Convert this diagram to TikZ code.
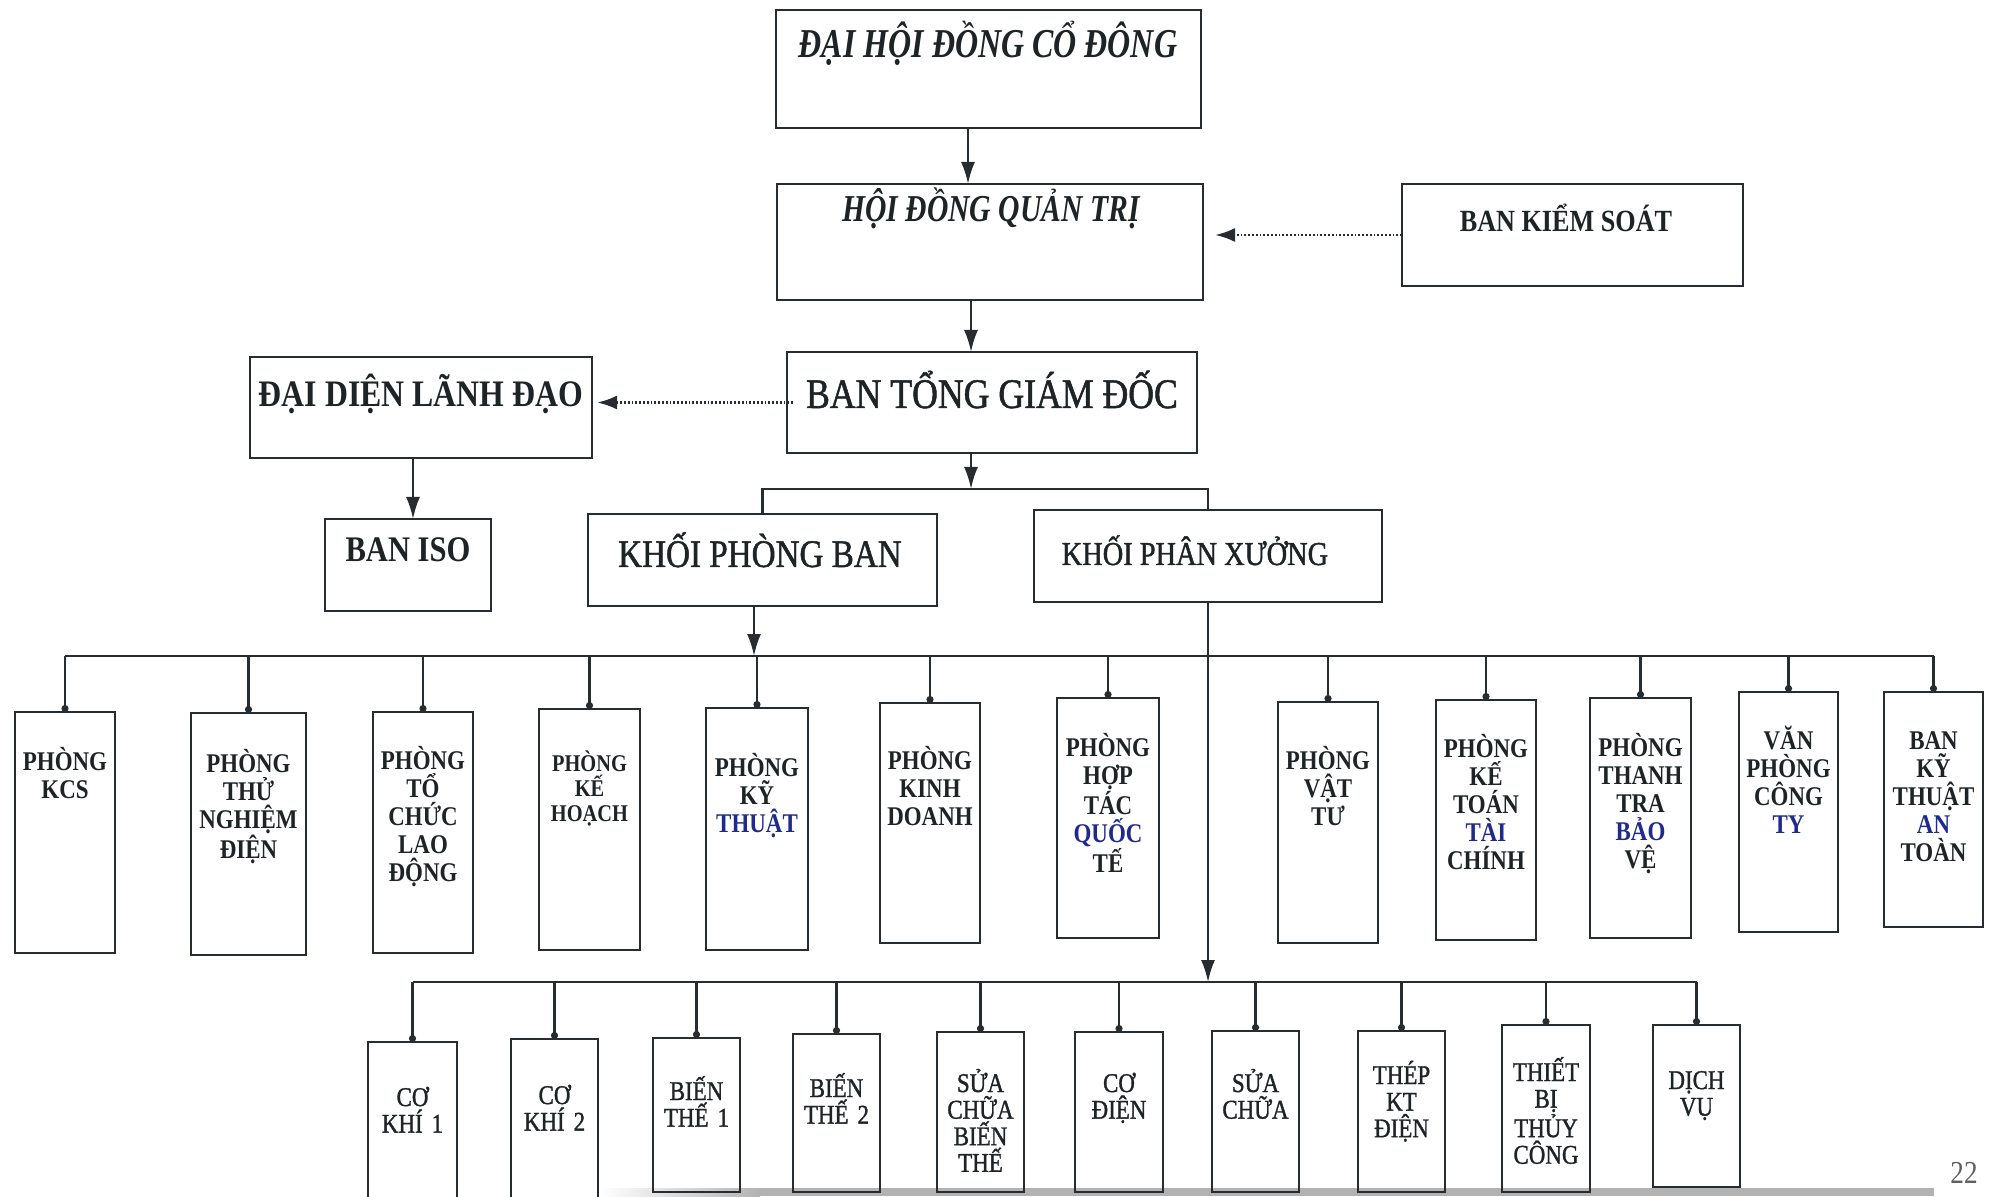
\documentclass[tikz,border=0pt]{standalone}
\usepackage{fontspec}
\setmainfont{Liberation Serif}
\newfontfamily\cond[FakeStretch=0.85]{Liberation Serif}
\newfontfamily\condm[FakeStretch=0.85, FakeBold=1.2]{Liberation Serif}
\newfontfamily\condi[FakeStretch=0.78]{Liberation Serif}
\usetikzlibrary{arrows.meta}
\definecolor{tc}{HTML}{1E2326}
\definecolor{linec}{HTML}{262C30}
\definecolor{bl}{HTML}{1F2A8C}
\tikzset{
  box/.style={draw=linec, line width=1.4pt, inner sep=0pt, outer sep=0pt},
  arr/.style={draw=linec, line width=1.1pt, -{Latex[length=11pt,width=7pt]}},
  dotarr/.style={draw=linec, line width=1.4pt, dash pattern=on 0.9pt off 1pt, -{Latex[length=10pt,width=7pt]}},
  conn/.style={draw=linec, line width=1.1pt, -{Circle[length=3.5pt]}},
  busline/.style={draw=linec, line width=1.2pt},
  head/.style={text=tc, anchor=base, inner sep=0pt},
  dtext/.style={text=tc, anchor=base, inner sep=0pt, text width=60pt, align=center,
    font=\cond\bfseries\fontsize{13.5}{14}\selectfont},
  btext/.style={text=tc, anchor=base, inner sep=0pt, text width=60pt, align=center,
    font=\condm\fontsize{13.5}{13.3}\selectfont},
}
\newcommand\ubox[5]{%
  \node[box, minimum width={(#4-#2)*0.5pt}, minimum height={(#5-#3)*0.5pt}] (#1) at ({(#2+#4)/2},{(#3+#5)/2}) {};}
\newcommand\dept[7]{%
  \ubox{#1}{#2}{#3}{#4}{#5}
  \node[dtext] (#1t) at ({(#2+#4)/2},#6) {#7};}
\newcommand\wbox[7]{%
  \ubox{#1}{#2}{#3}{#4}{#5}
  \node[btext] (#1t) at ({(#2+#4)/2},#6) {#7};}
\begin{document}
\begin{tikzpicture}[x=0.5pt, y=-0.5pt]
\useasboundingbox (0,0) rectangle (1991,1197);
\fill[white] (0,0) rectangle (1991,1197);
% bottom grey band
\shade[left color=white, right color=gray!60] (600,1188) rectangle (760,1196);
\fill[gray!60] (760,1188) rectangle (1934,1196);

% upper boxes
\ubox{dh}{776}{10}{1201}{128}
\node[head, font=\condi\bfseries\itshape\fontsize{20.5}{20.5}\selectfont] (dht) at (988,58) {ĐẠI HỘI ĐỒNG CỔ ĐÔNG};
\ubox{hdqt}{777}{184}{1203}{300}
\node[head, font=\condi\bfseries\itshape\fontsize{19}{19}\selectfont] (hdqtt) at (991,222) {HỘI ĐỒNG QUẢN TRỊ};
\ubox{bks}{1402}{184}{1743}{286}
\node[head, font=\cond\bfseries\fontsize{15.4}{15.4}\selectfont] (bkst) at (1566,232) {BAN KIỂM SOÁT};
\ubox{btgd}{787}{352}{1197}{453}
\node[head, font=\condm\fontsize{21}{21}\selectfont] (btgdt) at (992,408) {BAN TỔNG GIÁM ĐỐC};
\ubox{dd}{250}{357}{592}{458}
\node[head, font=\cond\bfseries\fontsize{18.7}{18.7}\selectfont] (ddt) at (421,407) {ĐẠI DIỆN LÃNH ĐẠO};
\ubox{iso}{325}{519}{491}{611}
\node[head, font=\cond\bfseries\fontsize{18}{18}\selectfont] (isot) at (408,561) {BAN ISO};
\ubox{kpb}{588}{514}{937}{606}
\node[head, font=\condm\fontsize{19.5}{19.5}\selectfont] (kpbt) at (760,567) {KHỐI PHÒNG BAN};
\ubox{kpx}{1034}{510}{1382}{602}
\node[head, font=\condm\fontsize{16.7}{16.7}\selectfont] (kpxt) at (1195,565) {KHỐI PHÂN XƯỞNG};

% department boxes
\dept{d1}{15}{712}{115}{953}{770}{PHÒNG\\KCS}
\dept{d2}{191}{713}{306}{955}{772}{PHÒNG\\THỬ\\NGHIỆM\\ĐIỆN}
\dept{d3}{373}{712}{473}{953}{769}{PHÒNG\\TỔ\\CHỨC\\LAO\\ĐỘNG}
\ubox{d4}{539}{709}{640}{950}
\node[dtext, font=\cond\bfseries\fontsize{12}{12.5}\selectfont] (d4t) at (589.5,771) {PHÒNG\\KẾ\\HOẠCH};
\dept{d5}{706}{708}{808}{950}{776}{PHÒNG\\KỸ\\\textcolor{bl}{THUẬT}}
\dept{d6}{880}{703}{980}{943}{769}{PHÒNG\\KINH\\DOANH}
\dept{d7}{1057}{698}{1159}{938}{756}{PHÒNG\\HỢP\\TÁC\\\textcolor{bl}{QUỐC}\\TẾ}
\dept{d8}{1278}{702}{1378}{943}{769}{PHÒNG\\VẬT\\TƯ}
\dept{d9}{1436}{700}{1536}{940}{757}{PHÒNG\\KẾ\\TOÁN\\\textcolor{bl}{TÀI}\\CHÍNH}
\dept{d10}{1590}{698}{1691}{938}{756}{PHÒNG\\THANH\\TRA\\\textcolor{bl}{BẢO}\\VỆ}
\dept{d11}{1739}{692}{1838}{932}{749}{VĂN\\PHÒNG\\CÔNG\\\textcolor{bl}{TY}}
\dept{d12}{1884}{692}{1983}{927}{749}{BAN\\KỸ\\THUẬT\\\textcolor{bl}{AN}\\TOÀN}

% workshop boxes
\wbox{b1}{368}{1042}{457}{1202}{1106}{CƠ\\KHÍ 1}
\wbox{b2}{511}{1039}{598}{1202}{1104}{CƠ\\KHÍ 2}
\wbox{b3}{653}{1038}{740}{1192}{1100}{BIẾN\\THẾ 1}
\wbox{b4}{793}{1034}{880}{1192}{1097}{BIẾN\\THẾ 2}
\wbox{b5}{937}{1032}{1024}{1192}{1092}{SỬA\\CHỮA\\BIẾN\\THẾ}
\wbox{b6}{1075}{1032}{1163}{1192}{1092}{CƠ\\ĐIỆN}
\wbox{b7}{1212}{1031}{1299}{1192}{1092}{SỬA\\CHỮA}
\wbox{b8}{1358}{1031}{1445}{1192}{1084}{THÉP\\KT\\ĐIỆN}
\wbox{b9}{1502}{1025}{1590}{1192}{1081}{THIẾT\\BỊ\\THỦY\\CÔNG}
\wbox{b10}{1653}{1025}{1740}{1187}{1089}{DỊCH\\VỤ}

% helper coordinates
\coordinate (a1) at (968,0);
\coordinate (a2) at (971,0);
\coordinate (busA) at (971,489);
\coordinate (a4) at (413,0);
\coordinate (db) at (754,656);
\coordinate (bb) at (1208,982);

% connectors
\draw[arr] (dh.south -| a1) -- (hdqt.north -| a1);
\draw[arr] (hdqt.south -| a2) -- (btgd.north -| a2);
\draw[dotarr, shorten >=6pt] (bks.west) -- (hdqt.east |- bks.west);
\draw[dotarr, shorten <=-3pt, shorten >=2.5pt] (btgd.west) -- (dd.east |- btgd.west);
\draw[arr] (dd.south -| a4) -- (iso.north -| a4);
\draw[arr] (btgd.south -| busA) -- (busA);
\draw[busline] (kpb.north) |- (busA) -| (kpx.north);
\draw[arr] (kpb.south -| db) -- (db);
\draw[arr] (kpx.south) -- (bb);

% department bus
\draw[busline] (d1.north |- db) -- (d12.north |- db);
\foreach \n in {d1,d2,d3,d4,d5,d6,d7,d8,d9,d10,d11,d12}
  \draw[conn] (\n.north |- db) -- (\n.north);

% workshop bus
\draw[busline] (b1.north |- bb) -- (b10.north |- bb);
\foreach \n in {b1,b2,b3,b4,b5,b6,b7,b8,b9,b10}
  \draw[conn] (\n.north |- bb) -- (\n.north);

% page number
\node[text=gray!75!black, font=\cond\fontsize{16}{16}\selectfont, inner sep=0pt] (pg) at (1964,1173) {22};
\end{tikzpicture}
\end{document}
